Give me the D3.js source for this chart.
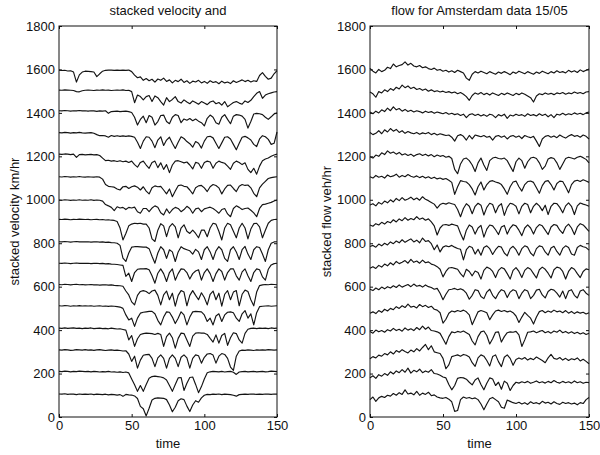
<!DOCTYPE html>
<html>
<head>
<meta charset="utf-8">
<script src="https://cdn.jsdelivr.net/npm/d3@7"></script>
<style>
  html, body { margin: 0; padding: 0; background: #fff; }
  svg { display: block; }
  text { font-family: "Liberation Sans", Arial, Helvetica, sans-serif; fill: #111; }
</style>
</head>
<body>
<svg id="chart" width="600" height="455"></svg>
<script>
// ---------------- data ----------------
const timeSteps = d3.range(0, 151, 2);           // sample times 0..150
const xTicks = [0, 50, 100, 150];
const yTicks = [0, 200, 400, 600, 800, 1000, 1200, 1400, 1600, 1800];
const stackOffsets = [0, 100, 200, 300, 400, 500, 600, 700, 800, 900, 1000, 1100, 1200, 1300, 1400, 1500];

// velocity per detector (km/hr), detector 0 = bottom of stack
const velocity0 = [106,105,107,104,106,105,103,106,104,105, 104,106,103,105,104,103,105,102,104,103, 101,103,95,104,102,101,97,85,49,38, 5,40,78,86,88,87,86,80,55,24, 45,75,84,80,50,25,55,75,68,88, 100,104,103,105,104,106,103,105,104,103, 100,96,103,104,105,104,106,105,104,105, 104,106,105,104,106,105];
const velocity1 = [110,109,111,110,108,110,109,111,110,109, 110,108,110,109,107,109,108,110,107,108, 106,108,105,107,103,75,48,18,45,18, 50,78,86,88,86,84,80,70,45,18, 50,80,82,22,55,82,84,50,12,40, 75,104,108,110,109,108,110,107,109,110, 106,96,107,109,110,108,109,110,108,109, 110,108,109,111,110,109];
const velocity2 = [109,108,110,109,107,108,110,109,108,110, 108,109,107,109,110,108,106,108,109,107, 108,106,104,105,90,56,80,25,62,84, 87,88,70,32,72,86,70,25,70,86, 70,32,75,86,72,25,70,86,82,48, 75,90,92,85,48,80,92,88,70,30, 15,80,104,108,107,109,108,106,109,108, 109,108,110,109,108,109];
const velocity3 = [109,108,110,108,109,110,108,109,107,109, 108,110,107,108,109,107,108,106,109,107, 105,106,103,100,55,75,25,60,80,84, 86,85,84,80,85,80,25,70,86,65, 17,62,86,84,55,25,72,86,88,86, 86,80,62,45,78,40,75,85,30,65, 88,84,55,40,85,104,108,109,107,109, 108,109,107,110,108,109];
const velocity4 = [112,111,113,112,110,112,111,113,111,112, 111,112,110,111,112,110,111,109,111,110, 108,106,100,70,47,55,17,55,78,82, 84,86,86,75,45,24,60,84,82,60, 30,55,84,70,24,60,84,86,85,84, 70,40,55,24,65,75,40,70,82,84, 80,55,40,75,90,55,75,24,80,108, 110,111,112,110,111,112];
const velocity5 = [110,109,111,110,108,110,111,109,110,108, 109,110,108,109,107,108,109,107,108,106, 105,104,102,80,62,30,16,60,78,82, 78,68,80,84,60,16,62,80,40,70, 10,60,82,75,12,60,82,60,40,72, 50,16,65,80,40,70,10,65,82,40, 75,82,12,65,84,78,40,12,75,105, 108,110,109,111,110,109];
const velocity6 = [108,107,109,108,106,108,109,107,108,107, 108,106,107,108,106,107,105,106,104,103, 102,100,98,47,62,24,65,80,82,82, 83,78,50,16,62,82,60,24,65,82, 30,60,82,80,65,35,60,72,78,30, 65,82,60,24,60,82,70,30,65,82, 82,50,30,68,82,50,24,65,82,78, 45,30,80,100,106,108];
const velocity7 = [107,106,108,107,105,107,108,106,107,106, 107,105,106,107,105,106,104,105,103,102, 100,90,31,16,55,82,84,84,83,82, 82,75,40,8,55,84,70,30,70,60, 16,60,84,75,70,65,50,72,60,25, 70,84,60,25,65,84,70,30,16,70, 84,60,25,70,85,50,25,70,84,80, 50,16,70,100,106,107];
const velocity8 = [110,109,111,110,108,110,109,111,110,109, 110,108,109,110,108,109,107,108,106,105, 100,70,15,45,80,88,92,90,92,88, 88,70,20,8,60,90,80,30,75,90, 75,25,70,85,55,45,60,45,25,60, 60,30,70,92,88,55,15,70,92,85, 55,25,70,92,70,20,65,90,92,75, 25,60,92,105,109,110];
const velocity9 = [99,98,100,99,97,99,98,100,98,99, 98,100,97,99,98,94,78,72,65,50, 68,62,65,55,65,62,66,45,38,60, 60,45,62,72,66,40,30,58,38,55, 65,60,45,55,70,60,38,58,62,45, 58,62,66,60,50,38,55,60,35,22, 60,72,65,55,60,62,52,40,22,60, 78,80,84,88,94,99];
const velocity10 = [106,105,107,106,104,106,105,107,105,104, 106,105,104,106,104,95,70,62,60,58, 50,45,60,62,52,60,64,58,45,60, 40,27,55,64,60,62,45,27,50,14, 40,65,68,62,60,45,27,55,64,66, 55,38,60,70,66,55,27,50,66,68, 52,38,62,70,66,68,55,30,14,55, 72,85,98,102,104,106];
const velocity11 = [110,109,111,110,108,110,95,108,109,107, 108,109,107,108,104,92,80,82,78,80, 76,80,75,78,72,78,62,50,72,78, 60,45,72,78,48,70,40,62,25,60, 78,80,75,70,74,60,42,72,68,45, 72,78,74,45,68,78,72,68,55,40, 68,78,72,62,70,40,25,45,18,55, 80,88,92,100,106,110];
const velocity12 = [109,108,110,109,107,109,108,110,108,107, 108,109,106,100,95,96,94,88,96,92, 95,92,94,92,94,92,88,65,36,70, 90,88,70,40,75,90,50,75,88,60, 36,65,90,82,68,58,42,68,60,38, 70,90,92,85,60,36,62,88,90,80, 55,30,60,88,92,85,75,55,45,80, 95,90,78,55,60,112];
const velocity13 = [110,109,111,110,108,110,109,111,109,110, 108,110,109,107,109,108,110,98,106,107, 108,106,107,108,106,102,80,44,70,85, 55,88,80,44,60,88,90,60,50,80, 92,88,55,72,66,74,64,72,62,55, 40,75,90,80,55,48,80,92,70,50, 85,92,90,85,70,30,60,95,98,96, 92,80,70,82,95,100];
const velocity14 = [105,104,106,105,104,103,98,97,102,104, 105,104,103,105,104,106,104,105,103,104, 105,104,106,103,104,98,47,82,75,60, 75,80,52,78,70,52,36,70,52,62, 75,52,45,60,50,42,55,48,40,52, 45,38,50,55,42,48,36,52,28,38, 48,52,45,40,55,48,58,75,90,98, 67,82,88,92,96,98];
const velocity15 = [97,95,96,93,94,88,42,75,88,92, 91,90,88,67,80,92,96,97,97,96, 97,96,97,96,97,90,74,62,66,50, 58,48,55,42,56,50,60,45,52,38, 50,44,55,40,48,36,46,42,50,38, 45,36,48,40,44,34,46,38,42,35, 48,40,46,52,44,50,42,48,45,72, 85,68,55,60,80,95];

// flow per detector (scaled veh/hr), detector 0 = bottom of stack
const flow0 = [80,92,72,88,95,90,100,96,108,100, 112,104,125,106,110,102,118,100,110,104, 114,98,102,92,88,86,90,82,70,26, 30,80,92,86,90,84,88,80,60,33, 60,84,90,80,70,45,40,78,72,66, 62,68,60,66,58,70,62,66,60,72, 64,68,60,70,62,58,68,62,66,60, 64,56,66,62,80,90];
const flow1 = [80,90,78,95,88,100,92,108,98,112, 104,118,106,125,102,115,108,120,104,112, 106,118,100,98,92,84,80,50,25,45, 78,82,80,74,60,48,70,80,50,25, 55,80,75,45,60,28,65,55,22,45, 60,56,62,58,64,55,60,66,58,62, 56,64,58,68,60,56,64,58,62,56, 66,58,62,55,60,58];
const flow2 = [68,78,72,85,80,92,86,100,90,106, 98,110,102,95,108,100,115,104,120,134, 110,128,100,96,92,70,22,40,78,82, 86,80,88,84,76,50,33,72,86,80, 60,35,78,86,55,32,75,86,70,38, 65,72,66,74,62,70,64,76,68,60, 50,72,88,70,66,74,62,70,60,68, 64,72,58,66,56,45];
const flow3 = [94,86,100,92,98,90,102,96,108,98, 104,95,110,100,106,98,112,102,118,104, 114,98,96,92,85,60,35,70,92,88, 94,90,96,88,80,50,32,70,92,96, 75,36,60,90,92,45,70,88,92,90, 94,78,25,55,90,92,96,88,94,98, 88,94,86,96,90,100,88,94,86,92, 84,90,82,88,80,86];
const flow4 = [78,84,76,90,82,96,88,100,94,108, 100,112,104,120,106,110,102,118,108,114, 104,110,96,92,80,32,50,78,88,84, 90,86,92,84,70,25,55,84,90,86, 80,48,70,88,92,86,90,84,88,80, 65,35,60,82,68,55,28,60,85,90, 80,88,82,92,84,88,80,90,78,86, 76,84,78,82,74,80];
const flow5 = [88,82,94,86,98,90,100,94,104,96, 108,98,104,110,100,112,102,106,98,108, 100,96,88,92,70,40,65,86,88,92, 86,90,84,70,42,60,86,82,55,45, 75,88,60,45,70,86,80,50,75,86, 80,45,70,86,80,45,60,84,88,62, 48,78,88,84,70,52,80,45,80,86, 60,48,80,86,70,60];
const flow6 = [85,92,84,98,90,104,96,110,100,116, 106,112,120,108,126,112,118,108,122,110, 114,104,100,92,80,45,70,86,88,84, 80,60,45,80,70,50,72,65,35,75, 90,84,70,42,75,88,82,60,35,75, 88,70,42,75,88,80,60,40,78,90, 80,62,40,78,90,86,70,35,70,88, 80,60,42,70,82,78];
const flow7 = [85,90,82,96,88,100,92,106,98,110, 102,116,104,112,120,106,114,102,124,108, 112,98,70,92,60,82,88,84,90,82, 76,72,23,70,86,80,50,72,45,80, 88,75,48,70,86,82,55,42,75,86, 70,45,75,88,82,55,42,75,88,84, 60,45,78,86,62,45,76,88,80,50, 45,80,90,84,80,68];
const flow8 = [84,78,90,84,96,88,100,94,108,98, 112,104,118,106,114,108,122,110,116,106, 112,98,80,38,70,84,86,82,88,84, 80,45,15,60,84,75,42,70,82,28, 65,84,80,62,40,75,82,42,70,85, 80,60,35,70,84,70,42,72,86,80, 60,40,75,86,82,60,45,75,88,70, 40,75,90,84,70,55];
const flow9 = [76,82,72,88,80,94,86,100,90,106, 96,110,98,104,112,100,108,98,114,102, 96,88,80,62,78,84,80,86,82,78, 55,22,60,82,70,36,70,84,75,30, 65,84,78,40,70,82,28,65,84,80, 70,35,70,84,78,40,70,84,72,50, 75,32,70,84,82,65,40,72,86,70, 32,72,85,80,76,70];
const flow10 = [106,100,112,104,108,100,114,106,110,118, 104,112,106,116,108,104,110,102,108,100, 106,98,104,96,100,94,98,90,80,25, 60,88,84,82,70,50,22,60,82,45, 70,85,88,82,78,70,50,25,60,82, 86,60,40,70,84,86,80,55,30,65, 85,88,70,45,75,86,84,60,32,70, 86,90,84,92,86,80];
const flow11 = [98,92,106,100,116,108,125,114,120,110, 118,106,112,104,110,100,108,112,104,110, 102,108,98,106,100,104,96,100,90,40, 20,65,88,92,80,60,30,70,92,60, 35,80,92,96,90,88,92,80,55,30, 75,92,80,45,75,92,96,90,70,40, 55,88,94,90,70,40,65,90,96,92, 88,96,100,94,86,70];
const flow12 = [110,100,106,118,104,122,112,128,116,124, 110,118,106,114,108,104,110,102,108,104, 110,100,106,98,104,100,96,98,88,70, 95,100,92,75,96,80,98,94,90,96, 88,92,75,92,96,88,94,80,92,96, 88,94,82,96,90,86,92,70,45,80, 92,96,88,94,86,98,90,84,94,100, 92,96,88,98,92,80];
const flow13 = [104,96,108,100,114,106,122,110,128,114, 120,108,116,106,112,104,110,106,100,108, 102,106,98,104,100,96,102,94,98,92, 96,88,94,78,92,96,88,94,86,92, 84,94,90,78,92,86,94,75,90,86, 94,88,92,84,96,88,92,86,96,88, 94,82,92,78,94,90,98,90,96,92, 100,94,98,92,100,104];
const flow14 = [96,88,72,98,92,106,98,112,104,118, 110,128,116,124,112,118,108,112,104,110, 100,106,98,102,96,100,94,98,92,96, 88,94,86,75,58,80,92,86,94,84, 90,82,92,86,80,90,84,92,86,80, 90,84,92,86,78,70,50,78,88,84, 92,86,90,84,92,88,94,86,92,88, 96,90,94,88,96,98];
const flow15 = [105,92,84,100,90,96,110,104,125,112, 118,122,135,120,128,116,112,118,108,112, 104,100,106,96,100,92,96,88,94,86, 96,90,84,60,50,78,90,84,92,86, 80,90,84,78,88,82,90,84,76,88, 82,92,86,80,90,84,78,88,82,92, 86,80,90,84,94,86,90,84,96,88, 94,86,98,90,96,102];

const velocitySeries = [velocity0, velocity1, velocity2, velocity3, velocity4, velocity5, velocity6, velocity7,
  velocity8, velocity9, velocity10, velocity11, velocity12, velocity13, velocity14, velocity15];
const flowSeries = [flow0, flow1, flow2, flow3, flow4, flow5, flow6, flow7,
  flow8, flow9, flow10, flow11, flow12, flow13, flow14, flow15];

// ---------------- drawing ----------------
const svg = d3.select("#chart");
const plotTop = 26, plotBottom = 417;
const panels = [
  { title: "stacked velocity and", ylabel: "stacked velocity km/hr", series: velocitySeries, x0: 59, x1: 277, ylabX: 19 },
  { title: "flow for Amsterdam data 15/05", ylabel: "stacked flow veh/hr", series: flowSeries, x0: 370, x1: 589, ylabX: 331 }
];

panels.forEach(p => {
  const x = d3.scaleLinear().domain([0, 150]).range([p.x0, p.x1]);
  const y = d3.scaleLinear().domain([0, 1800]).range([plotBottom, plotTop]);
  const g = svg.append("g");

  // data lines
  const line = d3.line().x(d => x(d[0])).y(d => y(d[1]));
  p.series.forEach((s, i) => {
    const pts = s.map((v, j) => [timeSteps[j], stackOffsets[i] + v]);
    g.append("path").datum(pts)
      .attr("d", line)
      .attr("fill", "none")
      .attr("stroke", "#141414")
      .attr("stroke-width", 1.15)
      .attr("stroke-linejoin", "round");
  });

  // axes (ticks inward, MATLAB-style box)
  const fs = "13px";
  const fmt = d => String(d);
  const leftAx = g.append("g").attr("transform", `translate(${p.x0},0)`)
    .call(d3.axisLeft(y).tickValues(yTicks).tickFormat(fmt).tickSizeInner(-3).tickSizeOuter(0).tickPadding(4));
  const botAx = g.append("g").attr("transform", `translate(0,${plotBottom})`)
    .call(d3.axisBottom(x).tickValues(xTicks).tickFormat(fmt).tickSizeInner(-3).tickSizeOuter(0).tickPadding(4));
  const topAx = g.append("g").attr("transform", `translate(0,${plotTop})`)
    .call(d3.axisTop(x).tickValues(xTicks).tickSizeInner(-3).tickSizeOuter(0).tickFormat(""));
  const rightAx = g.append("g").attr("transform", `translate(${p.x1},0)`)
    .call(d3.axisRight(y).tickValues(yTicks).tickSizeInner(-3).tickSizeOuter(0).tickFormat(""));
  [leftAx, botAx, topAx, rightAx].forEach(a => {
    a.select(".domain").remove();
    a.selectAll("line").attr("stroke", "#111");
    a.selectAll("text").style("font-size", fs).attr("fill", "#111")
      .style("font-family", '"Liberation Sans", Arial, sans-serif');
  });

  g.append("rect")
    .attr("x", p.x0).attr("y", plotTop)
    .attr("width", p.x1 - p.x0).attr("height", plotBottom - plotTop)
    .attr("fill", "none").attr("stroke", "#111").attr("stroke-width", 1);

  const cx = (p.x0 + p.x1) / 2;
  g.append("text").attr("x", cx).attr("y", 15).attr("text-anchor", "middle")
    .style("font-size", "13px").text(p.title);
  g.append("text").attr("x", cx).attr("y", 448).attr("text-anchor", "middle")
    .style("font-size", "13px").text("time");
  g.append("text")
    .attr("transform", `translate(${p.ylabX},${(plotTop + plotBottom) / 2}) rotate(-90)`)
    .attr("text-anchor", "middle")
    .style("font-size", "13px").text(p.ylabel);
});
</script>
</body>
</html>
